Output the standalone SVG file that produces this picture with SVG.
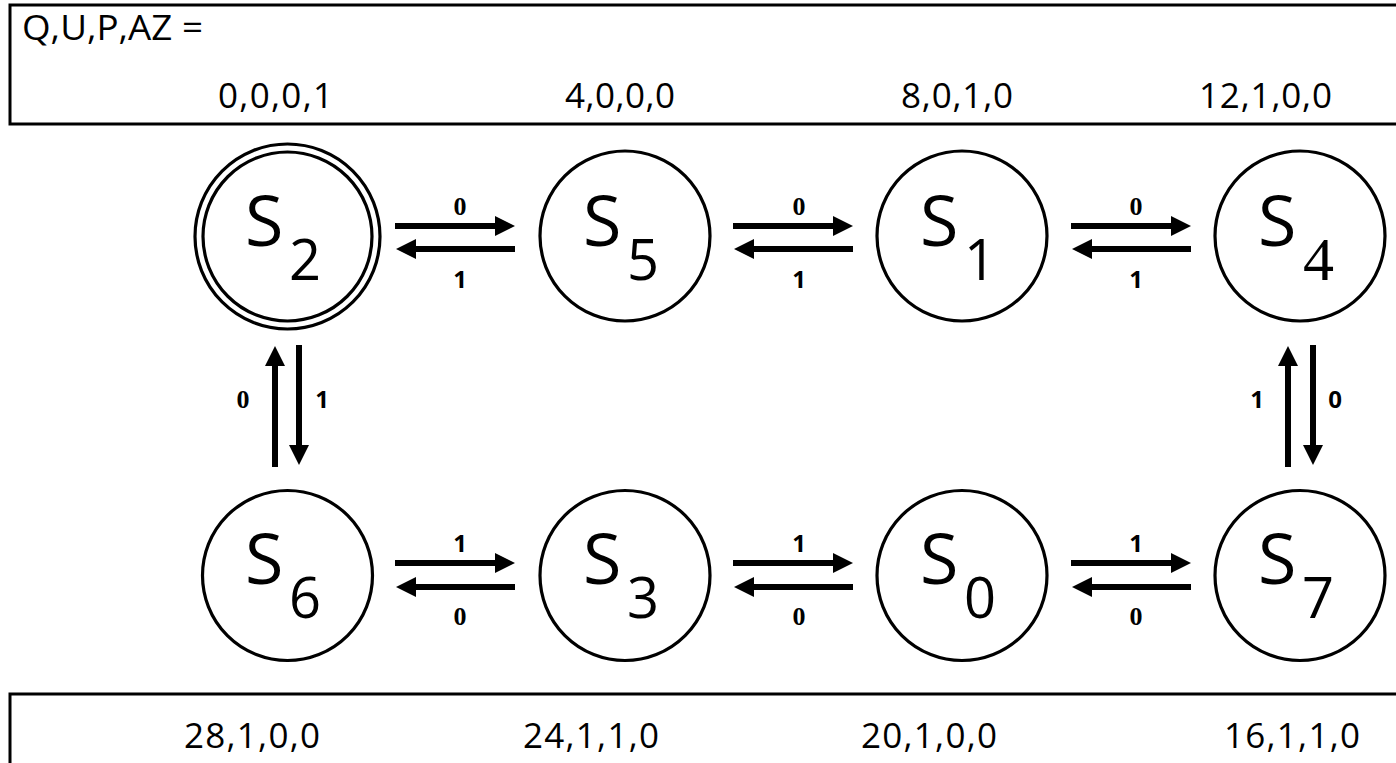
<svg xmlns="http://www.w3.org/2000/svg" width="1396" height="763" viewBox="0 0 1396 763">
<style>
.box{fill:none;stroke:#000;stroke-width:3}
.node{fill:#fff;stroke:#000;stroke-width:3.2}
.s{font-family:"Open Sans","Noto Sans",sans-serif;font-size:70px;fill:#000}
.sub{font-family:"Open Sans","Noto Sans",sans-serif;font-size:56px;fill:#000}
.subserif{font-family:"Liberation Serif",serif;font-size:62px;fill:#000}
.val{font-family:"Open Sans","Noto Sans",sans-serif;font-size:35px;fill:#000}
.lbl0{font-family:"Liberation Serif",serif;font-weight:bold;font-size:26px;fill:#000;text-anchor:middle}
.lbl1{font-family:"Open Sans","Liberation Sans",sans-serif;font-weight:bold;font-size:24px;fill:#000;text-anchor:middle}
.arr{stroke:#000;stroke-width:6;fill:none}
</style>
<defs>
<marker id="ah" markerUnits="userSpaceOnUse" markerWidth="21" markerHeight="20" refX="0" refY="10" orient="auto">
<path d="M0,0 L20,10 L0,20 Z" fill="#000"/>
</marker>
</defs>

<g id="top-box">
<rect class="box" x="10" y="5" width="1400" height="119"/>
<text class="val" x="22" y="40" textLength="181" lengthAdjust="spacingAndGlyphs">Q,U,P,AZ =</text>
<text class="val" x="218" y="108" textLength="115" lengthAdjust="spacing">0,0,0,1</text>
<text class="val" x="565" y="108" textLength="110" lengthAdjust="spacing">4,0,0,0</text>
<text class="val" x="901" y="108" textLength="112" lengthAdjust="spacing">8,0,1,0</text>
<text class="val" x="1199" y="108" textLength="133" lengthAdjust="spacing">12,1,0,0</text>
</g>

<g id="bottom-box">
<rect class="box" x="10" y="694" width="1400" height="100"/>
<text class="val" x="184" y="748" textLength="136" lengthAdjust="spacing">28,1,0,0</text>
<text class="val" x="523" y="748" textLength="136" lengthAdjust="spacing">24,1,1,0</text>
<text class="val" x="861" y="748" textLength="136" lengthAdjust="spacing">20,1,0,0</text>
<text class="val" x="1224" y="748" textLength="136" lengthAdjust="spacing">16,1,1,0</text>
</g>

<g id="S2">
<circle class="node" cx="287.5" cy="236.5" r="92.5"/>
<circle class="node" cx="287.5" cy="236.5" r="84.5"/>
<text class="s" x="245" y="246">S</text><text class="sub" x="289" y="280">2</text>
</g>
<g id="S5">
<circle class="node" cx="625" cy="236" r="85"/>
<text class="s" x="583" y="246">S</text><text class="sub" x="627" y="280">5</text>
</g>
<g id="S1">
<circle class="node" cx="962" cy="236" r="85"/>
<text class="s" x="920" y="246">S</text><text class="sub" x="964" y="280">1</text>
</g>
<g id="S4">
<circle class="node" cx="1300" cy="236" r="85"/>
<text class="s" x="1258" y="246">S</text><text class="subserif" x="1303" y="280">4</text>
</g>
<g id="S6">
<circle class="node" cx="287.5" cy="575.5" r="85"/>
<text class="s" x="245" y="584">S</text><text class="sub" x="289" y="618">6</text>
</g>
<g id="S3">
<circle class="node" cx="625" cy="575.5" r="85"/>
<text class="s" x="583" y="584">S</text><text class="sub" x="627" y="618">3</text>
</g>
<g id="S0">
<circle class="node" cx="962" cy="575.5" r="85"/>
<text class="s" x="920" y="584">S</text><text class="sub" x="964" y="618">0</text>
</g>
<g id="S7">
<circle class="node" cx="1300" cy="575.5" r="85"/>
<text class="s" x="1258" y="584">S</text><text class="sub" x="1302" y="618">7</text>
</g>

<g id="connectors">
<line class="arr" x1="395" y1="226" x2="495" y2="226" marker-end="url(#ah)"/>
<line class="arr" x1="515" y1="249" x2="416" y2="249" marker-end="url(#ah)"/>
<line class="arr" x1="733" y1="226" x2="833" y2="226" marker-end="url(#ah)"/>
<line class="arr" x1="853" y1="249" x2="754" y2="249" marker-end="url(#ah)"/>
<line class="arr" x1="1071" y1="226" x2="1171" y2="226" marker-end="url(#ah)"/>
<line class="arr" x1="1191" y1="249" x2="1092" y2="249" marker-end="url(#ah)"/>
<line class="arr" x1="395" y1="563" x2="495" y2="563" marker-end="url(#ah)"/>
<line class="arr" x1="515" y1="587" x2="416" y2="587" marker-end="url(#ah)"/>
<line class="arr" x1="733" y1="563" x2="833" y2="563" marker-end="url(#ah)"/>
<line class="arr" x1="853" y1="587" x2="754" y2="587" marker-end="url(#ah)"/>
<line class="arr" x1="1071" y1="563" x2="1171" y2="563" marker-end="url(#ah)"/>
<line class="arr" x1="1191" y1="587" x2="1092" y2="587" marker-end="url(#ah)"/>
<line class="arr" x1="275" y1="467" x2="275" y2="366" marker-end="url(#ah)"/>
<line class="arr" x1="299" y1="345" x2="299" y2="445" marker-end="url(#ah)"/>
<line class="arr" x1="1288" y1="467" x2="1288" y2="366" marker-end="url(#ah)"/>
<line class="arr" x1="1313" y1="345" x2="1313" y2="445" marker-end="url(#ah)"/>
<text class="lbl0" x="460" y="215">0</text>
<text class="lbl1" x="460" y="288">1</text>
<text class="lbl0" x="799" y="215">0</text>
<text class="lbl1" x="799" y="288">1</text>
<text class="lbl0" x="1136" y="215">0</text>
<text class="lbl1" x="1136" y="288">1</text>
<text class="lbl1" x="460" y="552">1</text>
<text class="lbl0" x="460" y="625">0</text>
<text class="lbl1" x="799" y="552">1</text>
<text class="lbl0" x="799" y="625">0</text>
<text class="lbl1" x="1136" y="552">1</text>
<text class="lbl0" x="1136" y="625">0</text>
<text class="lbl0" x="243" y="408">0</text>
<text class="lbl1" x="322" y="408">1</text>
<text class="lbl1" x="1257" y="408">1</text>
<text class="lbl1" x="1335" y="408">0</text>
</g>
</svg>
